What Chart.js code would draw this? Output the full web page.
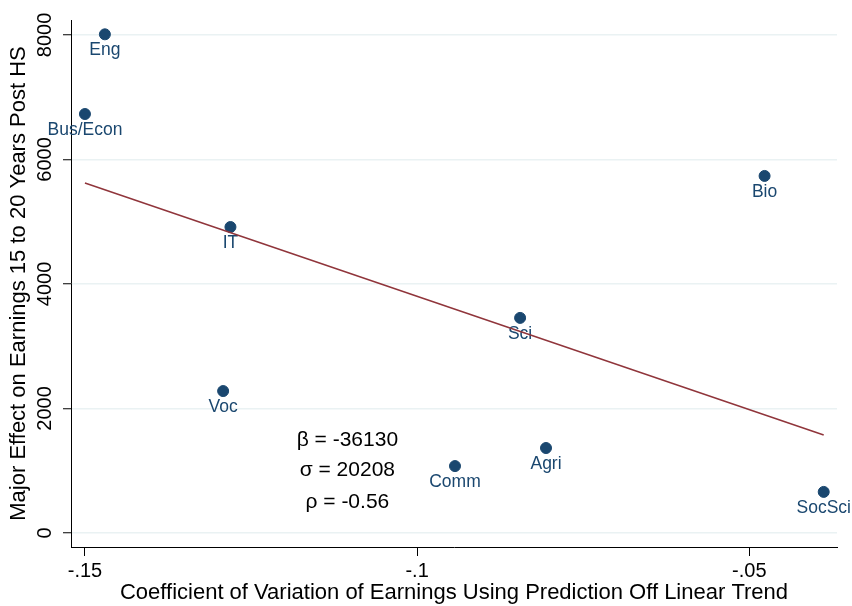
<!DOCTYPE html>
<html>
<head>
<meta charset="utf-8">
<script src="https://cdn.jsdelivr.net/npm/chart.js@4"></script>
<style>
  body { margin: 0; background: #fff; }
  canvas { display: block; }
</style>
</head>
<body>
<canvas id="chart" width="852" height="606"></canvas>
<script>
// Values
const majors = ['Eng', 'Bus/Econ', 'IT', 'Voc', 'Sci', 'Comm', 'Agri', 'Bio', 'SocSci'];
const cvEarnings = [-0.1470, -0.1500, -0.1281, -0.1292, -0.0845, -0.0943, -0.0806, -0.0477, -0.0388];
const majorEffect = [8010, 6730, 4915, 2280, 3455, 1075, 1365, 5735, 660];
const fitX = [-0.1500, -0.0388];   // fitted line ends
const fitY = [5622, 1574];
const xTicks = [-0.15, -0.10, -0.05];
const yTicks = [0, 2000, 4000, 6000, 8000];
const statLines = ['β = -36130', 'σ = 20208', 'ρ = -0.56'];
const statX = -0.1105;
const statY = [1494, 1012, 498];

const FONT = '"Liberation Sans", Arial, sans-serif';
const NAVY = '#1a476f';

// drop the leading zero like Stata does: -0.15 -> -.15
function stataNum(v) {
    return String(v).replace('0.', '.');
}

// major names under each dot (drawn before the fit line)
const pointLabels = {
    id: 'pointLabels',
    afterDatasetDraw(chart, args) {
        if (args.index !== 1) return;
        const ctx = chart.ctx;
        ctx.save();
        ctx.font = '17.5px ' + FONT;
        ctx.fillStyle = NAVY;
        ctx.textAlign = 'center';
        ctx.textBaseline = 'middle';
        args.meta.data.forEach((pt, i) => ctx.fillText(majors[i], pt.x, pt.y + 16));
        ctx.restore();
    }
};

// rotated y tick labels + the stats box
const extras = {
    id: 'extras',
    afterDraw(chart) {
        const ctx = chart.ctx;
        const xs = chart.scales.x;
        const ys = chart.scales.y;
        ctx.save();
        ctx.fillStyle = '#000';
        ctx.font = '20px ' + FONT;
        ctx.textAlign = 'center';
        ctx.textBaseline = 'middle';
        yTicks.forEach(v => {
            ctx.save();
            ctx.translate(45, ys.getPixelForValue(v));
            ctx.rotate(-Math.PI / 2);
            ctx.fillText(String(v), 0, 0);
            ctx.restore();
        });
        ctx.font = '21px ' + FONT;
        statLines.forEach((t, i) => {
            ctx.fillText(t, xs.getPixelForValue(statX), ys.getPixelForValue(statY[i]));
        });
        ctx.restore();
    }
};

new Chart(document.getElementById('chart'), {
    type: 'scatter',
    data: {
        datasets: [{
            type: 'line',
            data: fitX.map((x, i) => ({ x: x, y: fitY[i] })),
            borderColor: '#90353b',
            borderWidth: 1.5,
            pointRadius: 0,
            order: 0
        }, {
            data: cvEarnings.map((x, i) => ({ x: x, y: majorEffect[i] })),
            backgroundColor: NAVY,
            borderColor: NAVY,
            pointRadius: 5.5,
            order: 1
        }]
    },
    options: {
        responsive: false,
        animation: false,
        layout: { padding: { top: 20, right: 15, left: 0, bottom: 0 } },
        plugins: { legend: { display: false }, tooltip: { enabled: false } },
        scales: {
            x: {
                type: 'linear',
                min: -0.1521,
                max: -0.0368,
                afterBuildTicks: s => { s.ticks = xTicks.map(v => ({ value: v })); },
                afterFit: s => { s.height = 59; },
                ticks: {
                    autoSkip: false,
                    maxRotation: 0,
                    padding: 3,
                    color: '#000',
                    font: { family: FONT, size: 20 },
                    callback: v => stataNum(v)
                },
                grid: { drawOnChartArea: false, tickLength: 9, tickColor: '#000', tickWidth: 1 },
                border: { color: '#000', width: 1 },
                title: {
                    display: true,
                    text: 'Coefficient of Variation of Earnings Using Prediction Off Linear Trend',
                    color: '#000',
                    font: { family: FONT, size: 22 },
                    padding: { top: 0, bottom: 0 }
                }
            },
            y: {
                min: -225,
                max: 8240,
                afterBuildTicks: s => { s.ticks = yTicks.map(v => ({ value: v })); },
                afterFit: s => { s.width = 71; },
                ticks: { display: false },
                grid: { color: '#eaf2f3', lineWidth: 1.5, tickLength: 8, tickColor: '#000', tickWidth: 1 },
                border: { color: '#000', width: 1 },
                title: {
                    display: true,
                    text: 'Major Effect on Earnings 15 to 20 Years Post HS',
                    color: '#000',
                    font: { family: FONT, size: 22 },
                    padding: { top: 6, bottom: 0 }
                }
            }
        }
    },
    plugins: [pointLabels, extras]
});
</script>
</body>
</html>
